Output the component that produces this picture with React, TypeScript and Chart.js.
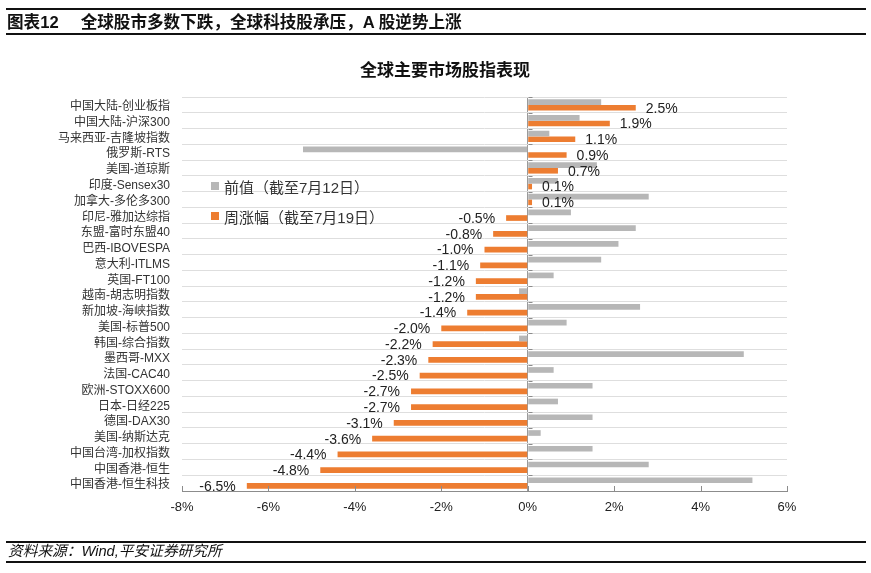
import React, { useEffect, useRef } from "react";
import { Chart, registerables } from "chart.js";

Chart.register(...registerables);

const categories = [
  "中国大陆-创业板指",
  "中国大陆-沪深300",
  "马来西亚-吉隆坡指数",
  "俄罗斯-RTS",
  "美国-道琼斯",
  "印度-Sensex30",
  "加拿大-多伦多300",
  "印尼-雅加达综指",
  "东盟-富时东盟40",
  "巴西-IBOVESPA",
  "意大利-ITLMS",
  "英国-FT100",
  "越南-胡志明指数",
  "新加坡-海峡指数",
  "美国-标普500",
  "韩国-综合指数",
  "墨西哥-MXX",
  "法国-CAC40",
  "欧洲-STOXX600",
  "日本-日经225",
  "德国-DAX30",
  "美国-纳斯达克",
  "中国台湾-加权指数",
  "中国香港-恒生",
  "中国香港-恒生科技",
];

const prevValues = [
  1.7, 1.2, 0.5, -5.2, 1.6, 0.7, 2.8, 1.0, 2.5, 2.1, 1.7, 0.6, -0.2, 2.6, 0.9,
  -0.2, 5.0, 0.6, 1.5, 0.7, 1.5, 0.3, 1.5, 2.8, 5.2,
];

const weekValues = [
  2.5, 1.9, 1.1, 0.9, 0.7, 0.1, 0.1, -0.5, -0.8, -1.0, -1.1, -1.2, -1.2, -1.4,
  -2.0, -2.2, -2.3, -2.5, -2.7, -2.7, -3.1, -3.6, -4.4, -4.8, -6.5,
];

const prevLabel = "前值（截至7月12日）";
const weekLabel = "周涨幅（截至7月19日）";
const xMin = -8;
const xMax = 6;
const xStep = 2;

const GRAY = "#B7B7B7";
const ORANGE = "#ED7D31";
const FONT = '"Liberation Sans", "Noto Sans CJK SC", sans-serif';

const decorPlugin = {
  id: "decor",
  afterDatasetsDraw(chart: any) {
    const ctx = chart.ctx;
    const xs = chart.scales.x;
    const ys = chart.scales.y;
    const area = chart.chartArea;
    ctx.save();
    ctx.strokeStyle = "#8C8C8C";
    ctx.lineWidth = 1;
    xs.ticks.forEach((t: any) => {
      const px = Math.round(xs.getPixelForValue(t.value)) + 0.5;
      ctx.beginPath();
      ctx.moveTo(px, area.bottom);
      ctx.lineTo(px, area.bottom - 5);
      ctx.stroke();
    });
    const zx = Math.round(xs.getPixelForValue(0)) + 0.5;
    const half = (ys.getPixelForValue(1) - ys.getPixelForValue(0)) / 2;
    for (let i = 0; i <= categories.length; i++) {
      const py = i < categories.length ? ys.getPixelForValue(i) - half : area.bottom;
      const yy = Math.round(py) + 0.5;
      ctx.beginPath();
      ctx.moveTo(zx, yy);
      ctx.lineTo(zx + 4, yy);
      ctx.stroke();
    }
    const meta = chart.getDatasetMeta(1);
    ctx.font = "14px " + FONT;
    ctx.fillStyle = "#222";
    ctx.textBaseline = "middle";
    meta.data.forEach((el: any, i: number) => {
      const v = weekValues[i];
      const txt = v.toFixed(1) + "%";
      if (v >= 0) {
        ctx.textAlign = "left";
        ctx.fillText(txt, el.x + 10, el.y + 1);
      } else {
        ctx.textAlign = "right";
        ctx.fillText(txt, el.x - 11, el.y + 1);
      }
    });
    ctx.restore();
  },
};

export default function App() {
  const ref = useRef<HTMLCanvasElement | null>(null);

  useEffect(() => {
    if (!ref.current) return;
    const chart = new Chart(ref.current, {
      type: "bar",
      data: {
        labels: categories,
        datasets: [
          {
            label: prevLabel,
            data: prevValues,
            backgroundColor: GRAY,
            categoryPercentage: 0.72,
            barPercentage: 1.0,
          },
          {
            label: weekLabel,
            data: weekValues,
            backgroundColor: ORANGE,
            categoryPercentage: 0.72,
            barPercentage: 1.0,
          },
        ],
      },
      options: {
        indexAxis: "y",
        responsive: false,
        animation: false,
        layout: { padding: { left: 0, right: 84, top: 97, bottom: 52 } },
        plugins: {
          legend: { display: false },
          tooltip: { enabled: false },
          title: { display: false },
        },
        scales: {
          x: {
            type: "linear",
            min: xMin,
            max: xMax,
            ticks: {
              stepSize: xStep,
              padding: 9,
              color: "#222",
              font: { size: 13, family: FONT },
              callback: (v: any) => v + "%",
            },
            grid: {
              drawTicks: false,
              color: (c: any) => (c.tick && c.tick.value === 0 ? "#9A9A9A" : "rgba(0,0,0,0)"),
              lineWidth: 1,
            },
            border: { display: true, color: "#8C8C8C", width: 1 },
            afterFit: (s: any) => {
              s.height = 30;
            },
          },
          y: {
            type: "category",
            ticks: {
              padding: 12,
              labelOffset: 2,
              color: "#333",
              font: { size: 12, family: FONT },
              autoSkip: false,
            },
            grid: {
              drawTicks: false,
              color: "#DEDEDE",
              lineWidth: 1,
              offset: true,
            },
            border: { display: false },
            afterFit: (s: any) => {
              s.width = 182;
            },
          },
        },
      },
      plugins: [decorPlugin],
    });
    return () => chart.destroy();
  }, []);

  const line = (top: number): React.CSSProperties => ({
    position: "absolute",
    left: 6,
    width: 860,
    top,
    height: 0,
    borderTop: "2px solid #111",
  });

  return (
    <div
      style={{
        position: "absolute",
        left: 0,
        top: 0,
        width: 871,
        height: 573,
        background: "#fff",
        fontFamily: FONT,
        overflow: "hidden",
      }}
    >
      <canvas ref={ref} width={871} height={573} style={{ position: "absolute", left: 0, top: 0 }} />
      <div style={line(8)} />
      <div
        style={{
          position: "absolute",
          left: 7,
          top: 13,
          fontSize: 16.6,
          fontWeight: "bold",
          lineHeight: "20px",
          color: "#111",
          whiteSpace: "nowrap",
        }}
      >
        <span>图表12</span>
        <span style={{ marginLeft: 22 }}>全球股市多数下跌，全球科技股承压，A 股逆势上涨</span>
      </div>
      <div style={line(33)} />
      <div
        style={{
          position: "absolute",
          left: 245,
          width: 400,
          top: 60,
          textAlign: "center",
          fontSize: 17,
          fontWeight: "bold",
          lineHeight: "22px",
          color: "#111",
        }}
      >
        全球主要市场股指表现
      </div>
      {[
        { label: prevLabel, color: GRAY, top: 176 },
        { label: weekLabel, color: ORANGE, top: 206 },
      ].map((it) => (
        <div
          key={it.label}
          style={{
            position: "absolute",
            left: 211,
            top: it.top,
            height: 20,
            display: "flex",
            alignItems: "center",
            fontSize: 15,
            color: "#333",
            whiteSpace: "nowrap",
          }}
        >
          <span
            style={{ display: "inline-block", width: 8, height: 8, background: it.color, marginRight: 5 }}
          />
          <span>{it.label}</span>
        </div>
      ))}
      <div style={line(541)} />
      <div
        style={{
          position: "absolute",
          left: 8,
          top: 542,
          fontSize: 14.7,
          fontStyle: "italic",
          lineHeight: "18px",
          color: "#111",
          whiteSpace: "nowrap",
        }}
      >
        资料来源：Wind,平安证券研究所
      </div>
      <div style={line(561)} />
    </div>
  );
}
